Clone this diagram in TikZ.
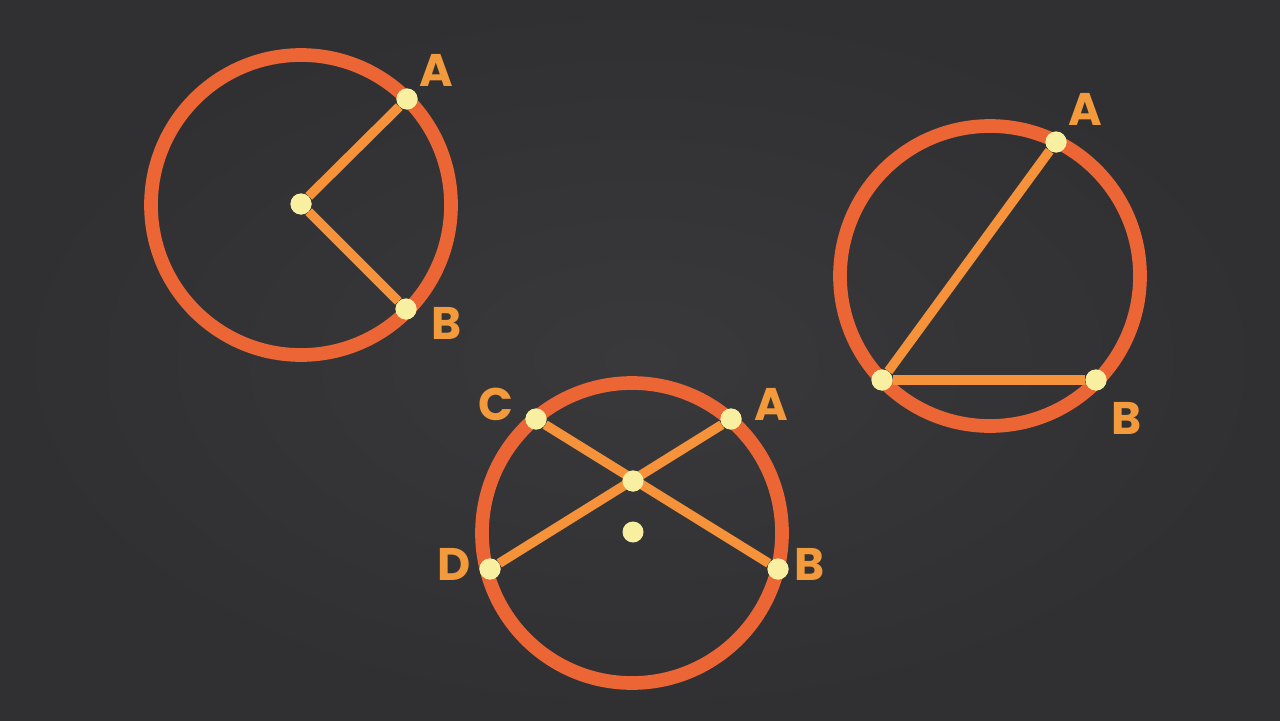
\documentclass[tikz,border=0pt]{standalone}
\usepackage{fontspec}
\setmainfont{Poppins}
\definecolor{board}{HTML}{303033}
\definecolor{boardlight}{HTML}{39393C}
\definecolor{ring}{HTML}{EC6535}
\definecolor{chord}{HTML}{F5923A}
\definecolor{dotc}{HTML}{F8F0A0}
\definecolor{lbl}{HTML}{F39A3C}
\begin{document}
\begin{tikzpicture}[x=0.02cm,y=-0.02cm,
  ringstyle/.style={draw=ring,line width=7.8pt},
  chordstyle/.style={draw=chord,line width=5.4pt},
  pt/.style={circle,fill=dotc,inner sep=0pt,minimum size=0.42cm},
  lab/.style={text=lbl,font=\fontsize{26}{26}\selectfont\bfseries,inner sep=0pt}]
\useasboundingbox (0,0) rectangle (1280,720);
\fill[board] (0,0) rectangle (1280,720);
\shade[inner color=boardlight,outer color=board] (0,0) rectangle (1280,720);
% circle 1
\coordinate (c1) at (301,205);
\draw[ringstyle] (c1) circle (150);
\node[pt] (o1) at (301,204) {};
\node[pt] (a1) at (407,99) {};
\node[pt] (b1) at (406,309) {};
\draw[chordstyle] (o1) -- (a1);
\draw[chordstyle] (o1) -- (b1);
\node[pt] at (o1) {};\node[pt] at (a1) {};\node[pt] at (b1) {};
\node[lab] (la1) at (436,70) {A};
\node[lab] (lb1) at (447,323) {B};
% circle 2
\coordinate (c2) at (990,276);
\draw[ringstyle] (c2) circle (150);
\node[pt] (a2) at (1056,142) {};
\node[pt] (b2) at (1096,380) {};
\node[pt] (p2) at (882,380) {};
\draw[chordstyle] (p2) -- (a2);
\draw[chordstyle] (p2) -- (b2);
\node[pt] at (a2) {};\node[pt] at (b2) {};\node[pt] at (p2) {};
\node[lab] (la2) at (1085,109) {A};
\node[lab] (lb2) at (1127,418) {B};
% circle 3
\coordinate (c3) at (632,533);
\draw[ringstyle] (c3) circle (150);
\node[pt] (c3p) at (536,419) {};
\node[pt] (a3) at (731,419) {};
\node[pt] (d3) at (490,569) {};
\node[pt] (b3) at (778,569) {};
\node[pt] (x3) at (633,481) {};
\node[pt] (o3) at (633,532) {};
\draw[chordstyle] (c3p) -- (b3);
\draw[chordstyle] (d3) -- (a3);
\node[pt] at (c3p) {};\node[pt] at (a3) {};\node[pt] at (d3) {};\node[pt] at (b3) {};\node[pt] at (x3) {};
\node[lab] (lc3) at (496,404) {C};
\node[lab] (la3) at (771,404) {A};
\node[lab] (ld3) at (454,564) {D};
\node[lab] (lb3) at (810,564) {B};
\end{tikzpicture}
\end{document}
